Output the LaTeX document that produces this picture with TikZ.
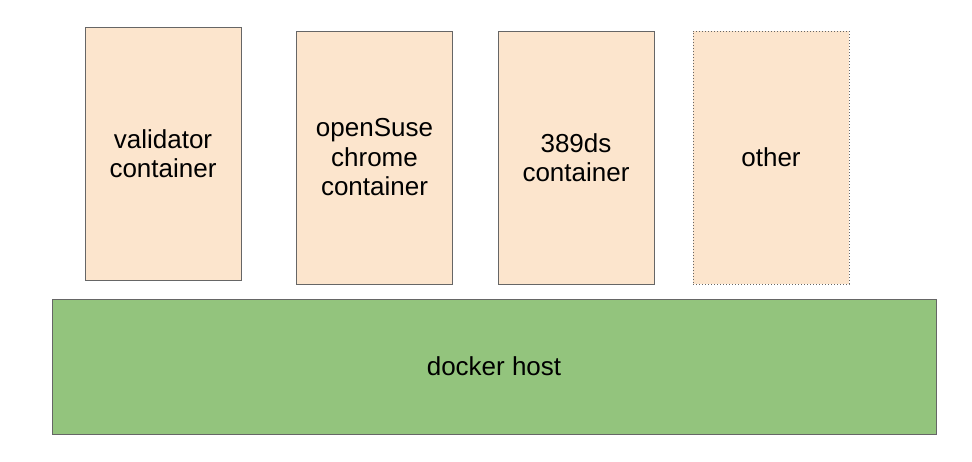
\documentclass[tikz,border=0pt]{standalone}
\usepackage{fontspec}
\setmainfont{Liberation Sans}
\definecolor{peach}{HTML}{FCE5CD}
\definecolor{hostgreen}{HTML}{93C47D}
\definecolor{edgegray}{HTML}{666666}
\tikzset{
  box/.style={draw=edgegray, line width=1pt, fill=peach, inner sep=0pt,
    minimum width=156pt, minimum height=253pt, align=center,
    font=\fontsize{26}{29.5}\selectfont},
  hostbox/.style={draw=edgegray, line width=1pt, fill=hostgreen, inner sep=0pt,
    minimum width=884pt, minimum height=135pt,
    font=\fontsize{26}{29.5}\selectfont}
}
\begin{document}
\begin{tikzpicture}[x=1pt,y=-1pt]
                \useasboundingbox (0,0) rectangle (972,461);

                \node [box] (validator) at (163,153.5) {validator\\container};
                \node [box] (opensuse) at (374.5,157.5) {openSuse\\chrome\\container};
                \node [box] (ds) at (576,157.5) {389ds\\container};
                \node [box, dotted] (other) at (771,157.5) {other};

                \node [hostbox] (host) at (494,366.5) {docker host};
            \end{tikzpicture}
\end{document}
